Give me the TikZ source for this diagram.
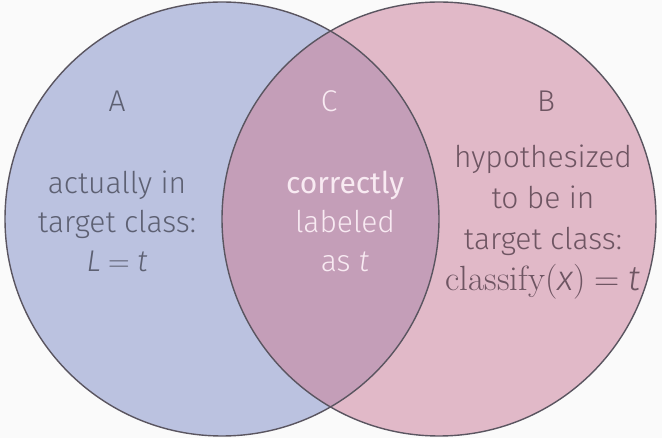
\documentclass[tikz,border=0pt]{standalone}
\usepackage{fontspec}
\setmainfont{Fira Sans}[UprightFont=* Light, ItalicFont=* Light Italic, BoldFont=*, BoldItalicFont=* Italic]
\newfontfamily\lmrfont{Latin Modern Roman}
\newcommand{\eqsign}{\hspace{0.25em}{\lmrfont =}\hspace{0.25em}}
\definecolor{bg}{HTML}{FAFAFA}
\definecolor{leftfill}{HTML}{BBC2E0}
\definecolor{rightfill}{HTML}{E1B9C8}
\definecolor{midfill}{HTML}{C49EB8}
\definecolor{edge}{HTML}{5A5560}
\definecolor{graytext}{HTML}{5D6072}
\definecolor{pinktext}{HTML}{6E5562}
\definecolor{whitetext}{HTML}{F8EAF2}
\begin{document}
\begin{tikzpicture}[x=1pt,y=-1pt,
  lbl/.style={font=\fontsize{30}{39}\selectfont, align=center, inner sep=0pt},
  ring/.style={draw=edge, line width=1.4pt}]
\fill[bg] (0,0) rectangle (662,438);
\useasboundingbox (0,0) rectangle (662,438);
\coordinate (ca) at (222,219);
\coordinate (cb) at (439,219);
\fill[leftfill] (ca) circle[radius=217];
\fill[rightfill] (cb) circle[radius=217];
\begin{scope}
  \clip (ca) circle[radius=217];
  \fill[midfill] (cb) circle[radius=217];
\end{scope}
\draw[ring] (ca) circle[radius=217];
\draw[ring] (cb) circle[radius=217];
\node[lbl, text=graytext] (A) at (117,101) {A};
\node[lbl, text=whitetext] (C) at (329,101) {C};
\node[lbl, text=pinktext] (B) at (546,101) {B};
\node[lbl, text=graytext, anchor=base] (tA) at (117,272) {actually in\\ target class:\\ {\itshape L}\eqsign{\itshape t}};
\node[lbl, text=whitetext, anchor=base] (tC) at (345,272) {\bfseries correctly\\ labeled\\ as \itshape t};
\node[lbl, text=pinktext, anchor=base, font=\fontsize{30}{41}\selectfont] (tB) at (543,291) {hypothesized\\ to be in\\ target class:\\ {\fontsize{35}{41}\selectfont{\lmrfont classify(}{\itshape x}{\lmrfont)}\eqsign{\itshape t}}};
\end{tikzpicture}
\end{document}
